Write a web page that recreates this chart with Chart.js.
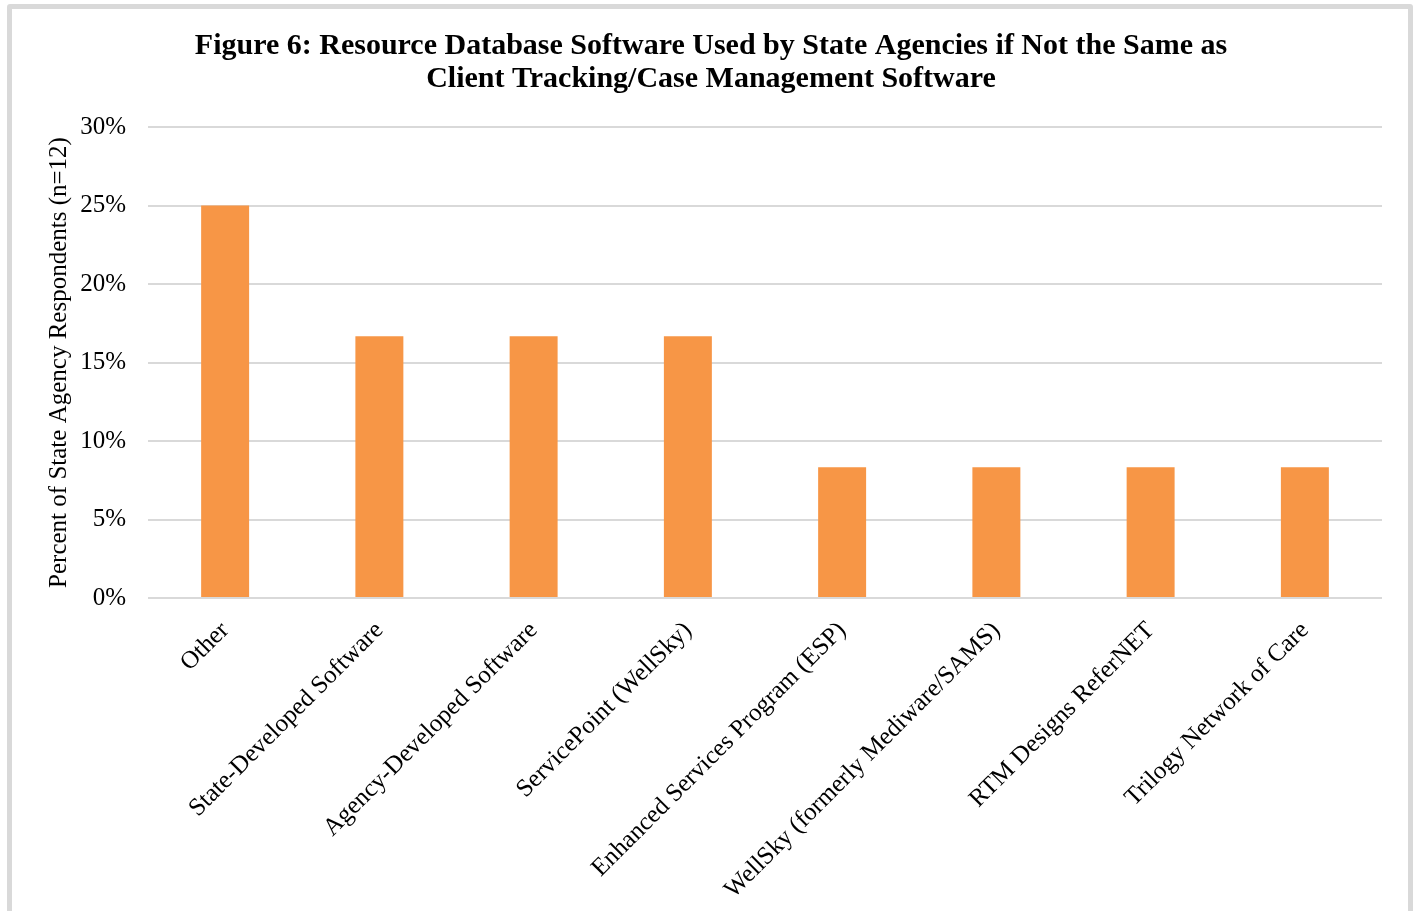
<!DOCTYPE html>
<html>
<head>
<meta charset="utf-8">
<script src="https://cdn.jsdelivr.net/npm/chart.js@4.4.1/dist/chart.umd.min.js"></script>
<style>
  html, body { margin: 0; padding: 0; background: #fff; overflow: hidden; }
  #wrap { position: absolute; left: 0; top: 0; width: 1418px; height: 911px; }
  #frame { position: absolute; left: 7px; top: 4px; width: 1396px; height: 960px;
           border: 5px solid #d9d9d9; border-radius: 3px; pointer-events: none; }
</style>
</head>
<body>
<div id="wrap"><canvas id="c" width="1418" height="911"></canvas></div>
<div id="frame"></div>
<script>
const titleLines = [
  "Figure 6: Resource Database Software Used by State Agencies if Not the Same as",
  "Client Tracking/Case Management Software"
];
const yAxisTitle = "Percent of State Agency Respondents (n=12)";
const categories = [
  "Other",
  "State-Developed Software",
  "Agency-Developed Software",
  "ServicePoint (WellSky)",
  "Enhanced Services Program (ESP)",
  "WellSky (formerly Mediware/SAMS)",
  "RTM Designs ReferNET",
  "Trilogy Network of Care"
];
const percentValues = [25, 16.67, 16.67, 16.67, 8.33, 8.33, 8.33, 8.33];
const yTickMin = 0;
const yTickMax = 30;
const yTickStep = 5;

const FONT = "'Liberation Serif', 'Times New Roman', serif";

new Chart(document.getElementById('c'), {
  type: 'bar',
  data: {
    labels: categories,
    datasets: [{
      data: percentValues,
      backgroundColor: '#F79646',
      borderWidth: 0,
      barPercentage: 0.311,
      categoryPercentage: 1.0
    }]
  },
  options: {
    responsive: false,
    animation: false,
    devicePixelRatio: 1,
    layout: { padding: { left: 40, right: 36, top: 0, bottom: 0 } },
    plugins: {
      legend: { display: false },
      tooltip: { enabled: false },
      title: {
        display: true,
        text: titleLines,
        color: '#000',
        font: { family: FONT, size: 30, weight: 'bold', lineHeight: 1.1 },
        padding: { top: 30, bottom: 31 }
      }
    },
    scales: {
      x: {
        grid: { display: false, drawTicks: false },
        border: { display: false },
        ticks: {
          color: '#000',
          font: { family: FONT, size: 25 },
          maxRotation: 45,
          minRotation: 45,
          padding: 18,
          autoSkip: false
        },
        afterFit: (s) => { s.height = 313; }
      },
      y: {
        min: yTickMin,
        max: yTickMax,
        grid: { color: '#d9d9d9', lineWidth: 2, drawTicks: false },
        border: { display: false },
        ticks: {
          stepSize: yTickStep,
          color: '#000',
          font: { family: FONT, size: 25 },
          padding: 22,
          callback: (v) => v + '%'
        },
        title: {
          display: true,
          text: yAxisTitle,
          color: '#000',
          font: { family: FONT, size: 25 },
          padding: { top: 4, bottom: 4 }
        },
        afterFit: (s) => { s.width = 108; }
      }
    }
  }
});
</script>
</body>
</html>
